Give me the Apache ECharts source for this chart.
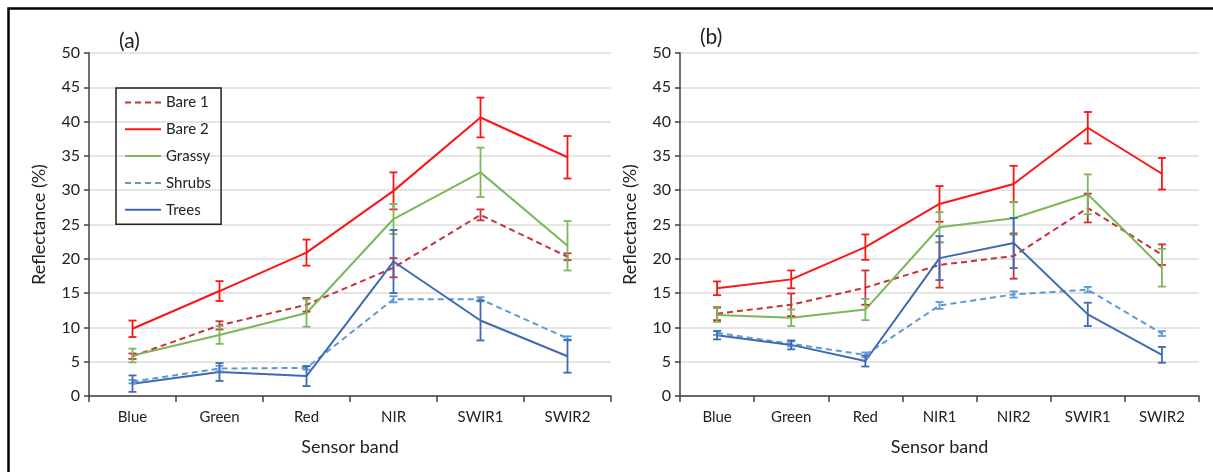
<!DOCTYPE html>
<html>
<head>
<meta charset="utf-8">
<script src="https://cdn.jsdelivr.net/npm/echarts@6/dist/echarts.min.js"></script>
<style>
  html, body { margin: 0; padding: 0; background: #fff; }
  #chart { width: 1213px; height: 472px; }
</style>
</head>
<body>
<div id="chart"></div>
<script>
// categories
const bandsA = ['Blue', 'Green', 'Red', 'NIR', 'SWIR1', 'SWIR2']
const bandsB = ['Blue', 'Green', 'Red', 'NIR1', 'NIR2', 'SWIR1', 'SWIR2']
const yTicks = [0, 50, 5] // min, max, step

// panel (a): mean reflectance and error (+/-)
const bare1A = [5.8, 10.3, 13.3, 18.7, 26.4, 20.3]
const bare1ErrA = [0.4, 0.6, 1.0, 1.4, 0.8, 0.5]
const bare2A = [9.8, 15.3, 20.9, 29.9, 40.6, 34.8]
const bare2ErrA = [1.2, 1.45, 1.9, 2.7, 2.9, 3.1]
const grassyA = [5.9, 8.9, 12.1, 25.8, 32.6, 21.9]
const grassyErrA = [1.0, 1.3, 2.0, 2.2, 3.6, 3.6]
const shrubsA = [2.1, 4.0, 4.1, 14.1, 14.1, 8.4]
const shrubsErrA = [0.25, 0.4, 0.25, 0.45, 0.3, 0.3]
const treesA = [1.8, 3.5, 2.9, 19.6, 11.0, 5.8]
const treesErrA = [1.2, 1.3, 1.45, 4.6, 2.9, 2.4]

// panel (b)
const bare1B = [12.0, 13.3, 15.8, 19.1, 20.4, 27.4, 20.6]
const bare1ErrB = [0.95, 1.65, 2.5, 3.3, 3.3, 2.1, 1.5]
const bare2B = [15.7, 17.0, 21.7, 28.0, 30.9, 39.1, 32.4]
const bare2ErrB = [1.0, 1.3, 1.85, 2.6, 2.65, 2.3, 2.3]
const grassyB = [11.8, 11.4, 12.6, 24.6, 25.9, 29.4, 18.7]
const grassyErrB = [1.0, 1.2, 1.55, 2.2, 2.4, 2.9, 2.75]
const shrubsB = [9.2, 7.6, 6.0, 13.2, 14.8, 15.5, 9.1]
const shrubsErrB = [0.3, 0.35, 0.35, 0.5, 0.45, 0.4, 0.35]
const treesB = [8.85, 7.45, 5.1, 20.1, 22.3, 11.9, 6.0]
const treesErrB = [0.6, 0.65, 0.8, 3.2, 3.65, 1.7, 1.15]

const FONT = 'Lato'
const colors = {
  'Bare 1': '#c8323a',
  'Bare 2': '#ff1414',
  'Grassy': '#7cb75a',
  'Shrubs': '#5b9bd5',
  'Trees': '#4069b3',
}
const dashed = { 'Bare 1': true, 'Shrubs': true }

const chart = echarts.init(document.getElementById('chart'))

function lineSeries(name, data, idx) {
  return {
    name,
    type: 'line',
    xAxisIndex: idx,
    yAxisIndex: idx,
    data,
    symbol: 'none',
    lineStyle: {
      color: colors[name],
      width: 2,
      type: dashed[name] ? [6, 4] : 'solid',
    },
    itemStyle: { color: colors[name] },
    z: 3,
  }
}

function errSeries(name, data, err, idx) {
  return {
    name,
    type: 'custom',
    xAxisIndex: idx,
    yAxisIndex: idx,
    data: data.map((v, i) => [i, v, err[i]]),
    renderItem: (params, api) => {
      const x = api.value(0)
      const v = api.value(1)
      const e = api.value(2)
      const hi = api.coord([x, v + e])
      const lo = api.coord([x, v - e])
      const w = 4
      const style = { stroke: colors[name], lineWidth: 1.8 }
      return {
        type: 'group',
        children: [
          { type: 'line', shape: { x1: hi[0], y1: hi[1], x2: lo[0], y2: lo[1] }, style },
          { type: 'line', shape: { x1: hi[0] - w, y1: hi[1], x2: hi[0] + w, y2: hi[1] }, style },
          { type: 'line', shape: { x1: lo[0] - w, y1: lo[1], x2: lo[0] + w, y2: lo[1] }, style },
        ],
      }
    },
    z: 4,
  }
}

function xAxis(data, idx) {
  return {
    type: 'category',
    gridIndex: idx,
    data,
    name: 'Sensor band',
    nameLocation: 'middle',
    nameGap: 42,
    nameTextStyle: { fontFamily: FONT, fontSize: 18, color: '#222' },
    axisLine: { lineStyle: { color: '#404040', width: 1.5 } },
    axisTick: { show: true, length: 6, lineStyle: { color: '#404040', width: 1.5 } },
    axisLabel: { fontFamily: FONT, fontSize: 15, color: '#222', margin: 14 },
  }
}

function yAxis(idx) {
  return {
    type: 'value',
    gridIndex: idx,
    min: yTicks[0],
    max: yTicks[1],
    interval: yTicks[2],
    name: 'Reflectance (%)',
    nameLocation: 'middle',
    nameGap: 41,
    nameTextStyle: { fontFamily: FONT, fontSize: 18, color: '#222' },
    axisLine: { show: true, lineStyle: { color: '#404040', width: 1.5 } },
    axisTick: { show: true, length: 5, lineStyle: { color: '#404040', width: 1.5 } },
    axisLabel: { fontFamily: FONT, fontSize: 16, color: '#222', margin: 9 },
    splitLine: { lineStyle: { color: '#dcdcdc', width: 1.5 } },
  }
}

const names = ['Bare 1', 'Bare 2', 'Grassy', 'Shrubs', 'Trees']
const panelA = [bare1A, bare2A, grassyA, shrubsA, treesA]
const errA = [bare1ErrA, bare2ErrA, grassyErrA, shrubsErrA, treesErrA]
const panelB = [bare1B, bare2B, grassyB, shrubsB, treesB]
const errB = [bare1ErrB, bare2ErrB, grassyErrB, shrubsErrB, treesErrB]

const series = []
names.forEach((n, i) => {
  series.push(lineSeries(n, panelA[i], 0))
  series.push(errSeries(n, panelA[i], errA[i], 0))
  series.push(lineSeries(n, panelB[i], 1))
  series.push(errSeries(n, panelB[i], errB[i], 1))
})

const options = {
  animation: false,
  backgroundColor: '#fff',
  title: [
    { text: '(a)', left: 114, top: 26, textStyle: { fontFamily: FONT, fontSize: 21, fontWeight: 'normal', color: '#222' } },
    { text: '(b)', left: 695, top: 22, textStyle: { fontFamily: FONT, fontSize: 21, fontWeight: 'normal', color: '#222' } },
  ],
  grid: [
    { left: 89, right: 602, top: 53, bottom: 76 },
    { left: 680, right: 14, top: 53, bottom: 76 },
  ],
  legend: {
    data: names,
    orient: 'vertical',
    left: 116,
    top: 88,
    borderColor: '#222',
    borderWidth: 1.5,
    padding: [7, 10, 7, 8],
    itemWidth: 36,
    itemHeight: 14,
    itemGap: 11.8,
    itemStyle: { opacity: 0 }, // line only, no marker
    textStyle: { fontFamily: FONT, fontSize: 15, color: '#222' },
  },
  xAxis: [xAxis(bandsA, 0), xAxis(bandsB, 1)],
  yAxis: [yAxis(0), yAxis(1)],
  series,
  graphic: [
    {
      type: 'rect',
      shape: { x: 8.5, y: 8.5, width: 1400, height: 700 },
      style: { fill: 'none', stroke: '#000', lineWidth: 2.5 },
      silent: true,
    },
  ],
}
chart.setOption(options, true)
</script>
</body>
</html>
